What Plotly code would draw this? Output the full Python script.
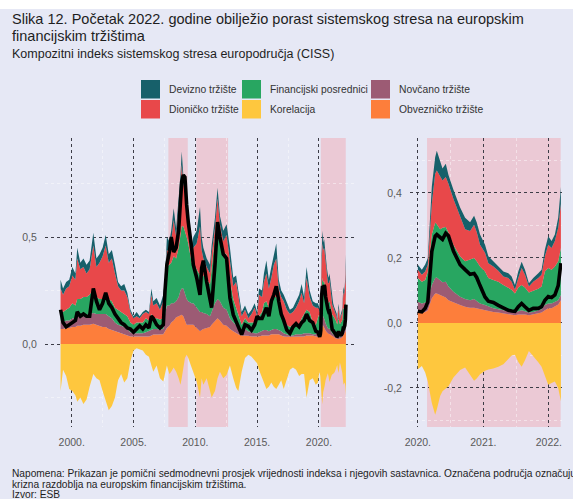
import plotly.graph_objects as go

# ---------------- data ----------------
# Left panel: 1999 - 2019 (the 2020-2022 part is shared with the right panel)
t_left = [1999.10, 1999.30, 1999.55, 1999.80, 2000.05, 2000.30, 2000.45, 2000.70, 2000.95, 2001.20,
          2001.45, 2001.75, 2002.00, 2002.25, 2002.50, 2002.75, 2003.00, 2003.25, 2003.50, 2003.75,
          2004.00, 2004.25, 2004.50, 2004.75, 2005.00, 2005.25, 2005.50, 2005.75, 2006.00, 2006.25,
          2006.45,
          2006.60, 2006.87, 2007.14, 2007.41, 2007.55, 2007.70, 2007.90, 2008.05, 2008.25, 2008.45,
          2008.65, 2008.80, 2008.90, 2009.03, 2009.16, 2009.30, 2009.43, 2009.70, 2009.84, 2010.11,
          2010.38, 2010.51, 2010.65, 2010.92, 2011.19, 2011.32, 2011.59, 2011.80, 2011.99, 2012.26,
          2012.53, 2012.80, 2013.07, 2013.30, 2013.48, 2013.75, 2014.02, 2014.29,
          2014.55, 2014.80, 2015.00, 2015.15, 2015.40, 2015.55, 2015.75, 2015.95, 2016.15, 2016.35,
          2016.55, 2016.75, 2016.95, 2017.15, 2017.40, 2017.65, 2017.90, 2018.15, 2018.40, 2018.60,
          2018.80, 2019.00, 2019.25, 2019.50, 2019.75, 2019.92]

obveznicko_left = [.07, .07, .075, .075, .08, .08, .085, .085, .09, .09, .09, .095, .09, .085, .08, .08, .07, .065, .06, .055,
                   .05, .045, .04, .035, .035, .035, .035, .035, .035, .035, .04,
                   .044, .044, .044, .045, .06, .075, .085, .10, .11, .125, .13, .135, .137, .13, .11, .09, .09, .09, .09, .075,
                   .06, .065, .07, .075, .08, .09, .11, .12, .11, .09, .085, .07, .06, .05, .045, .04, .04, .038,
                   .035, .035, .034, .035, .04, .04, .04, .04, .045, .045, .045, .045, .04, .035, .034, .034, .034, .035, .035, .035,
                   .035, .04, .04, .04, .035, .035]
novcano_left = [.04, .03, .035, .035, .04, .04, .045, .045, .04, .045, .05, .05, .05, .055, .06, .06, .06, .055, .04, .035,
                .035, .035, .03, .02, .015, .015, .015, .015, .02, .025, .025,
                .026, .026, .024, .025, .08, .105, .095, .09, .08, .075, .09, .115, .123, .13, .13, .12, .11, .10, .10, .095,
                .09, .085, .075, .065, .05, .06, .08, .09, .09, .08, .075, .05, .04, .04, .035, .02, .03, .022,
                .02, .015, .016, .02, .02, .025, .025, .02, .02, .025, .025, .02, .02, .015, .011, .006, .006, .01, .01, .01,
                .015, .01, .01, .005, .01, .025]
financijski_left = [.05, .05, .05, .06, .07, .06, .08, .08, .09, .085, .09, .115, .08, .07, .07, .08, .08, .08, .07, .07,
                    .065, .06, .06, .045, .04, .05, .05, .05, .065, .05, .075,
                    .05, .05, .047, .05, .08, .18, .19, .19, .22, .20, .23, .25, .29, .29, .29, .29, .27, .19, .19, .18,
                    .17, .18, .175, .16, .15, .20, .31, .33, .28, .26, .26, .18, .11, .08, .06, .03, .05, .04,
                    .045, .05, .06, .075, .09, .125, .135, .11, .145, .15, .15, .115, .08, .06, .045, .04, .05, .055, .045, .075,
                    .09, .11, .10, .055, .045, .06]
dionicko_left = [.10, .08, .10, .10, .13, .12, .19, .14, .14, .11, .12, .20, .14, .17, .20, .24, .17, .20, .16, .11,
                 .10, .11, .09, .05, .03, .03, .02, .04, .03, .03, .09,
                 .06, .07, .045, .08, .06, .08, .06, .10, .17, .10, .17, .24, .29, .20, .19, .11, .11, .04, .07, .12,
                 .23, .11, .08, .06, .05, .07, .04, .14, .08, .05, .09, .10, .06, .12, .08, .04, .04, .02,
                 .04, .07, .02, .10, .07, .10, .13, .09, .10, .15, .18, .08, .08, .09, .07, .06, .06, .07, .11, .12,
                 .05, .15, .07, .08, .08, .05]
devizno_left = [.04, .03, .03, .03, .04, .03, .05, .03, .04, .04, .04, .06, .04, .04, .04, .05, .04, .04, .04, .02,
                .02, .03, .02, .01, .01, .02, .01, .01, .01, .01, .03,
                .02, .025, .02, .03, .03, .06, .05, .05, .055, .04, .05, .05, .06, .04, .04, .04, .04, .04, .05, .06,
                .09, .06, .05, .04, .04, .04, .05, .05, .04, .05, .05, .05, .04, .03, .03, .02, .02, .02,
                .02, .02, .02, .03, .03, .04, .06, .04, .05, .05, .07, .04, .03, .03, .03, .02, .02, .03, .03, .04,
                .03, .05, .03, .02, .02, .02]
korelacija_left = [-.22, -.12, -.15, -.21, -.22, -.24, -.27, -.25, -.28, -.26, -.20, -.14, -.16, -.17, -.22, -.26, -.31, -.29, -.25, -.17,
                   -.14, -.18, -.16, -.08, -.03, -.02, -.025, -.03, -.05, -.06, -.10,
                   -.13, -.10, -.16, -.175, -.13, -.10, -.14, -.13, -.11, -.13, -.16, -.19, -.16, -.10, -.065, -.05, -.065, -.11, -.13, -.175,
                   -.25, -.16, -.19, -.16, -.22, -.25, -.22, -.16, -.13, -.16, -.145, -.10, -.16, -.205, -.22, -.13, -.065, -.05,
                   -.06, -.08, -.09, -.12, -.16, -.18, -.21, -.20, -.18, -.20, -.21, -.19, -.17, -.21, -.17, -.12, -.11, -.12, -.15, -.14,
                   -.14, -.25, -.17, -.16, -.19, -.18]
ciss_left = [.16, .10, .08, .09, .10, .11, .15, .13, .14, .13, .13, .26, .20, .16, .19, .24, .19, .17, .14, .12,
             .10, .09, .075, .07, .055, .07, .085, .07, .09, .075, .13,
             .12, .09, .075, .09, .25, .37, .43, .50, .43, .45, .53, .68, .76, .79, .78, .65, .57, .45, .37, .31,
             .23, .355, .39, .29, .215, .17, .37, .57, .50, .42, .40, .215, .137, .106, .075, .044, .09, .083,
             .065, .09, .13, .12, .12, .14, .17, .13, .20, .23, .27, .20, .14, .11, .065, .05, .08, .095, .08, .10,
             .11, .14, .11, .10, .06, .055]

# Right panel: 2020 - 2022
t_right = [2020.000, 2020.061, 2020.112, 2020.152, 2020.213, 2020.264, 2020.289, 2020.340, 2020.376, 2020.426,
           2020.467, 2020.543, 2020.645, 2020.721, 2020.797, 2020.858, 2020.898, 2020.949, 2021.025, 2021.076,
           2021.152, 2021.228, 2021.305, 2021.381, 2021.431, 2021.482, 2021.533, 2021.584, 2021.635, 2021.695,
           2021.761, 2021.838, 2021.888, 2021.939, 2021.990, 2022.041, 2022.091, 2022.142, 2022.183]
obveznicko_right = [.034, .032, .034, .039, .076, .091, .091, .086, .081, .078, .070, .063, .055, .050, .047, .047, .045, .042, .039, .036,
                    .034, .032, .029, .026, .024, .024, .026, .027, .026, .024, .026, .029, .032, .039, .045, .045, .050, .057, .070]
novcano_right = [.031, .028, .029, .031, .041, .047, .049, .044, .044, .049, .042, .033, .026, .024, .023, .027, .022, .018, .016, .014,
                 .011, .010, .010, .010, .010, .008, .010, .012, .010, .008, .008, .010, .010, .016, .015, .015, .015, .013, .016]
financijski_right = [.073, .067, .069, .088, .155, .171, .164, .158, .168, .168, .166, .145, .124, .116, .125, .126, .123, .114, .103, .088,
                     .087, .085, .078, .071, .068, .059, .073, .078, .073, .062, .064, .066, .070, .103, .109, .104, .109, .120, .145]
dionicko_right = [.026, .021, .026, .021, .094, .150, .165, .161, .145, .154, .150, .140, .119, .098, .088, .102, .090, .067, .058, .046,
                  .042, .034, .026, .031, .025, .011, .029, .052, .039, .018, .029, .033, .036, .047, .072, .067, .078, .103, .135]
devizno_right = [.015, .016, .022, .021, .054, .051, .061, .046, .037, .041, .027, .029, .031, .036, .027, .028, .030, .031, .025, .021,
                 .016, .013, .015, .015, .016, .015, .020, .019, .016, .010, .011, .015, .016, .021, .026, .021, .020, .031, .052]
korelacija_right = [-.142, -.132, -.152, -.180, -.246, -.282, -.266, -.225, -.210, -.203, -.195, -.168, -.145, -.137, -.158, -.178, -.171, -.158, -.147, -.143,
                    -.140, -.135, -.127, -.111, -.100, -.098, -.120, -.135, -.115, -.086, -.101, -.121, -.135, -.165, -.190, -.185, -.180, -.200, -.241]
ciss_right = [.036, .034, .045, .065, .220, .267, .272, .262, .257, .276, .268, .221, .179, .164, .150, .152, .140, .115, .080, .067,
              .063, .054, .045, .039, .037, .036, .050, .060, .050, .039, .045, .045, .050, .070, .081, .078, .086, .115, .184]

for arr in (obveznicko_left, novcano_left, financijski_left, dionicko_left, devizno_left, korelacija_left, ciss_left):
    assert len(arr) == len(t_left), len(arr)
for arr in (obveznicko_right, novcano_right, financijski_right, dionicko_right, devizno_right, korelacija_right, ciss_right):
    assert len(arr) == len(t_right), len(arr)

crisis_left = [(2007.82, 2009.39), (2010.08, 2012.65), (2020.15, 2022.17)]
crisis_right = [(2020.14, 2022.18)]

legend_names = ["Devizno tržište", "Financijski posrednici", "Novčano tržište",
                "Dioničko tržište", "Korelacija", "Obvezničko tržište"]

# ---------------- styling ----------------
W, H = 573, 499
ML, MR, MT, MB = 45, 11, 138, 72
PW = W - ML - MR
PH = H - MT - MB
def px(x): return (x - ML) / PW
def py(y): return (H - MB - y) / PH

FONT = "Arial, Liberation Sans, sans-serif"
BG = "#e6e8f5"
PINK = "#ebc9d5"
COL = {
    "Devizno tržište": "#17606a",
    "Dioničko tržište": "#e8484a",
    "Financijski posrednici": "#28a661",
    "Korelacija": "#fec73e",
    "Novčano tržište": "#9c5b74",
    "Obvezničko tržište": "#fd7e3b",
}
GRID = "#3c3c46"
TICKC = "#5a5a5a"
TXT = "#1e1e1e"

fig = go.Figure()

def add_panel(xa, ya, t, obv, nov, fin, dio, dev, kor, ciss, grp):
    for name, vals in (("Obvezničko tržište", obv), ("Novčano tržište", nov),
                       ("Financijski posrednici", fin), ("Dioničko tržište", dio),
                       ("Devizno tržište", dev)):
        fig.add_trace(go.Scatter(x=t, y=vals, name=name, stackgroup=grp, mode="lines",
                                 line=dict(width=0, color=COL[name]), fillcolor=COL[name],
                                 xaxis=xa, yaxis=ya, showlegend=False, hoverinfo="skip"))
    fig.add_trace(go.Scatter(x=t, y=kor, name="Korelacija", mode="lines", fill="tozeroy",
                             line=dict(width=0, color=COL["Korelacija"]), fillcolor=COL["Korelacija"],
                             xaxis=xa, yaxis=ya, showlegend=False, hoverinfo="skip"))
    fig.add_trace(go.Scatter(x=t, y=ciss, name="CISS", mode="lines",
                             line=dict(width=3.6, color="#000000"),
                             xaxis=xa, yaxis=ya, showlegend=False, hoverinfo="skip"))

add_panel("x", "y", t_left + t_right,
          obveznicko_left + obveznicko_right, novcano_left + novcano_right,
          financijski_left + financijski_right, dionicko_left + dionicko_right,
          devizno_left + devizno_right, korelacija_left + korelacija_right,
          ciss_left + ciss_right, "L")
add_panel("x2", "y2", t_right, obveznicko_right, novcano_right, financijski_right,
          dionicko_right, devizno_right, korelacija_right, ciss_right, "R")

shapes = []
for a, b in crisis_left:
    shapes.append(dict(type="rect", xref="x", yref="y domain", x0=a, x1=b, y0=0, y1=1,
                       fillcolor=PINK, line=dict(width=0), layer="below"))
for a, b in crisis_right:
    shapes.append(dict(type="rect", xref="x2", yref="y2 domain", x0=a, x1=b, y0=0, y1=1,
                       fillcolor=PINK, line=dict(width=0), layer="below"))
# white strip at the very top
shapes.append(dict(type="rect", xref="paper", yref="paper", x0=px(0), x1=px(W), y0=py(9), y1=py(0),
                   fillcolor="white", line=dict(width=0), layer="above"))

annotations = []
# title + subtitle
for text, yc, size in (("Slika 12. Početak 2022. godine obilježio porast sistemskog stresa na europskim", 18.5, 14.5),
                       ("financijskim tržištima", 35.5, 14.5),
                       ("Kompozitni indeks sistemskog stresa europodručja (CISS)", 53.5, 12.5)):
    annotations.append(dict(xref="paper", yref="paper", x=px(10), y=py(yc), xanchor="left", yanchor="middle",
                            showarrow=False, text=text, font=dict(family=FONT, size=size, color=TXT)))

# manual legend (3 columns x 2 rows)
col_x = [141, 242, 371]
row_y = [(80, 98.5), (100, 118.5)]
for i, name in enumerate(legend_names):
    r, c = divmod(i, 3)
    x0 = col_x[c]
    y0, y1 = row_y[r]
    shapes.append(dict(type="rect", xref="paper", yref="paper", x0=px(x0), x1=px(x0 + 19),
                       y0=py(y1), y1=py(y0), fillcolor=COL[name], line=dict(width=0), layer="above"))
    annotations.append(dict(xref="paper", yref="paper", x=px(x0 + 25.5), y=py((y0 + y1) / 2),
                            xanchor="left", yanchor="middle", showarrow=False, text=name,
                            font=dict(family=FONT, size=10.3, color="#333333")))

# notes
notes = ["Napomena: Prikazan je pomični sedmodnevni prosjek vrijednosti indeksa i njegovih sastavnica. Označena područja označuju",
         "krizna razdoblja na europskim financijskim tržištima.",
         "Izvor: ESB"]
for k, line in enumerate(notes):
    annotations.append(dict(xref="paper", yref="paper", x=px(10), y=py(473.5 + 10.5 * k),
                            xanchor="left", yanchor="middle", showarrow=False, text=line,
                            font=dict(family=FONT, size=10.2, color=TXT)))

axis_common = dict(showgrid=True, gridcolor=GRID, griddash="dot", gridwidth=1,
                   zeroline=False, showline=False, ticks="outside", ticklen=5,
                   tickcolor="rgba(0,0,0,0)", tickfont=dict(family=FONT, size=10.5, color=TICKC),
                   fixedrange=True)
minor_common = dict(showgrid=True, gridcolor="rgba(255,255,255,0.45)", gridwidth=1)

fig.update_layout(
    width=W, height=H,
    margin=dict(l=ML, r=MR, t=MT, b=MB, pad=0),
    paper_bgcolor=BG, plot_bgcolor=BG,
    showlegend=False,
    shapes=shapes,
    annotations=annotations,
    xaxis=dict(domain=[0, px(357)], range=[1997.84, 2023.08], anchor="y",
               tickvals=[2000, 2005, 2010, 2015, 2020],
               ticktext=["2000.", "2005.", "2010.", "2015.", "2020."],
               minor=dict(tickvals=[2002.5, 2007.5, 2012.5, 2017.5], **minor_common),
               **axis_common),
    yaxis=dict(domain=[0, 1], range=[-0.388, 0.963], anchor="x",
               tickvals=[0, 0.5], ticktext=["0,0", "0,5"],
               minor=dict(tickvals=[-0.25, 0.25, 0.75], **minor_common),
               **axis_common),
    xaxis2=dict(domain=[px(410), 1], range=[2019.88, 2022.2], anchor="y2",
                tickvals=[2020, 2021, 2022], ticktext=["2020.", "2021.", "2022."],
                minor=dict(tickvals=[2020.5, 2021.5], **minor_common),
                **axis_common),
    yaxis2=dict(domain=[0, 1], range=[-0.32, 0.569], anchor="x2",
                tickvals=[-0.2, 0, 0.2, 0.4], ticktext=["-0,2", "0,0", "0,2", "0,4"],
                minor=dict(tickvals=[-0.3, -0.1, 0.1, 0.3, 0.5], **minor_common),
                **axis_common),
)

fig.write_html("out.html", config={"displayModeBar": False},
               post_script="document.body.style.margin='0px'; document.body.style.overflow='hidden';")
